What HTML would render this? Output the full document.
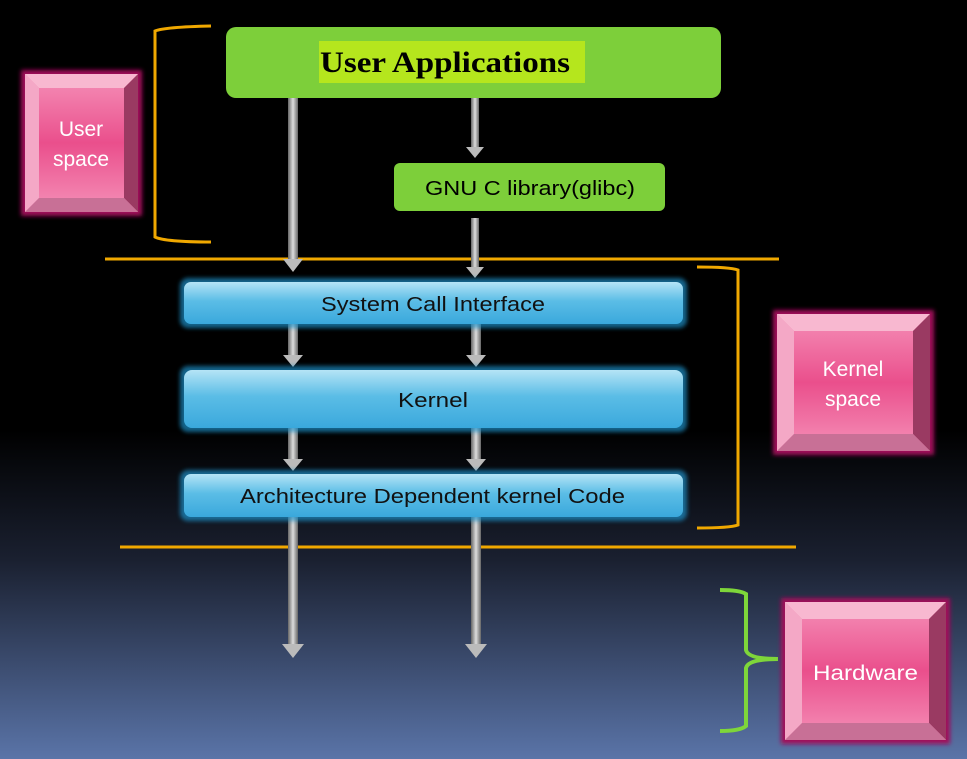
<!DOCTYPE html>
<html><head><style>
body{margin:0;width:967px;height:759px;overflow:hidden;background:linear-gradient(#000 0px,#000 430px,#1a2030 560px,#5a74a8 759px);}
svg{position:absolute;left:0;top:0}
</style></head><body>
<svg width="967" height="759" viewBox="0 0 967 759" font-family="Liberation Sans, sans-serif">
<defs>
<linearGradient id="ar" x1="0" x2="1"><stop offset="0" stop-color="#666"/><stop offset="0.5" stop-color="#ddd"/><stop offset="1" stop-color="#666"/></linearGradient>
<linearGradient id="bl" x1="0" y1="0" x2="0" y2="1"><stop offset="0" stop-color="#b5e4f6"/><stop offset="0.45" stop-color="#5bbde6"/><stop offset="1" stop-color="#3aa8dc"/></linearGradient>
<linearGradient id="pk" x1="0" y1="0" x2="0" y2="1"><stop offset="0" stop-color="#f590b8"/><stop offset="0.5" stop-color="#ea4f8c"/><stop offset="1" stop-color="#f590b8"/></linearGradient>
<filter id="gl"><feGaussianBlur stdDeviation="2"/></filter>
</defs>

<g stroke="#f0a800" stroke-width="3" fill="none">
<line x1="105" y1="259" x2="779" y2="259"/>
<line x1="120" y1="547" x2="796" y2="547"/>
<path d="M211 26 Q165 27 155 31 L155 237 Q165 242 211 242"/>
<path d="M697 267 Q730 267 738 270 L738 525 Q730 528 697 528"/>
</g>
<path d="M720 590 Q740 590 746 594 L746 650 Q748 659 778 659 Q748 659 746 668 L746 726 Q740 731 720 731" stroke="#7ed63a" stroke-width="4" fill="none"/>

<rect x="226" y="27" width="495" height="71" rx="10" fill="#7dcf3a"/>
<rect x="319" y="41" width="266" height="42" fill="#b5e61d"/>
<text x="320" y="72" font-family="Liberation Serif, serif" font-weight="bold" font-size="30" textLength="250" lengthAdjust="spacingAndGlyphs">User Applications</text>
<rect x="394" y="163" width="271" height="48" rx="6" fill="#7dcf3a"/>
<text x="425" y="195" font-size="20" textLength="210" lengthAdjust="spacingAndGlyphs">GNU C library(glibc)</text>

<g>
<rect x="288" y="98" width="10" height="162" fill="url(#ar)"/><polygon points="283,259 303,259 293,272" fill="#bbb"/>
<rect x="471" y="98" width="8" height="50" fill="url(#ar)"/><polygon points="466,147 484,147 475,158" fill="#bbb"/>
<rect x="471" y="218" width="8" height="50" fill="url(#ar)"/><polygon points="466,267 484,267 475,278" fill="#bbb"/>
<rect x="288" y="324" width="10" height="33" fill="url(#ar)"/><polygon points="283,355 303,355 293,367" fill="#bbb"/>
<rect x="471" y="324" width="10" height="33" fill="url(#ar)"/><polygon points="466,355 486,355 476,367" fill="#bbb"/>
<rect x="288" y="428" width="10" height="33" fill="url(#ar)"/><polygon points="283,459 303,459 293,471" fill="#bbb"/>
<rect x="471" y="428" width="10" height="33" fill="url(#ar)"/><polygon points="466,459 486,459 476,471" fill="#bbb"/>
<rect x="288" y="517" width="10" height="128" fill="url(#ar)"/><polygon points="282,644 304,644 293,658" fill="#bbb"/>
<rect x="471" y="517" width="10" height="128" fill="url(#ar)"/><polygon points="465,644 487,644 476,658" fill="#bbb"/>
</g>

<g fill="url(#bl)">
<rect x="180" y="278" width="507" height="50" rx="8" fill="#1e90c8" filter="url(#gl)" opacity="0.7"/>
<rect x="184" y="282" width="499" height="42" rx="7"/>
<rect x="180" y="366" width="507" height="66" rx="8" fill="#1e90c8" filter="url(#gl)" opacity="0.7"/>
<rect x="184" y="370" width="499" height="58" rx="8"/>
<rect x="180" y="470" width="507" height="51" rx="8" fill="#1e90c8" filter="url(#gl)" opacity="0.7"/>
<rect x="184" y="474" width="499" height="43" rx="7"/>
</g>
<g font-size="20" fill="#111">
<text x="321" y="311" textLength="224" lengthAdjust="spacingAndGlyphs">System Call Interface</text>
<text x="398" y="407" textLength="70" lengthAdjust="spacingAndGlyphs">Kernel</text>
<text x="240" y="503" textLength="385" lengthAdjust="spacingAndGlyphs">Architecture Dependent kernel Code</text>
</g>

<g>
<rect x="21" y="70" width="121" height="146" fill="#a0105a" filter="url(#gl)"/>
<rect x="25" y="74" width="113" height="138" fill="url(#pk)"/>
<polygon points="25,74 138,74 124,88 39,88" fill="#f8b8d0"/>
<polygon points="25,74 39,88 39,198 25,212" fill="#f4a8c6"/>
<polygon points="138,74 138,212 124,198 124,88" fill="#9a3a62"/>
<polygon points="25,212 138,212 124,198 39,198" fill="#c87096"/>
<text x="81" y="136" font-size="21" fill="#fff" text-anchor="middle">User</text>
<text x="81" y="166" font-size="21" fill="#fff" text-anchor="middle">space</text>

<rect x="773" y="310" width="161" height="145" fill="#a0105a" filter="url(#gl)"/>
<rect x="777" y="314" width="153" height="137" fill="url(#pk)"/>
<polygon points="777,314 930,314 913,331 794,331" fill="#f8b8d0"/>
<polygon points="777,314 794,331 794,434 777,451" fill="#f4a8c6"/>
<polygon points="930,314 930,451 913,434 913,331" fill="#9a3a62"/>
<polygon points="777,451 930,451 913,434 794,434" fill="#c87096"/>
<text x="853" y="376" font-size="21" fill="#fff" text-anchor="middle">Kernel</text>
<text x="853" y="406" font-size="21" fill="#fff" text-anchor="middle">space</text>

<rect x="781" y="598" width="169" height="146" fill="#a0105a" filter="url(#gl)"/>
<rect x="785" y="602" width="161" height="138" fill="url(#pk)"/>
<polygon points="785,602 946,602 929,619 802,619" fill="#f8b8d0"/>
<polygon points="785,602 802,619 802,723 785,740" fill="#f4a8c6"/>
<polygon points="946,602 946,740 929,723 929,619" fill="#9a3a62"/>
<polygon points="785,740 946,740 929,723 802,723" fill="#c87096"/>
<text x="813" y="680" font-size="21" fill="#fff" textLength="105" lengthAdjust="spacingAndGlyphs">Hardware</text>
</g>
</svg>
</body></html>
